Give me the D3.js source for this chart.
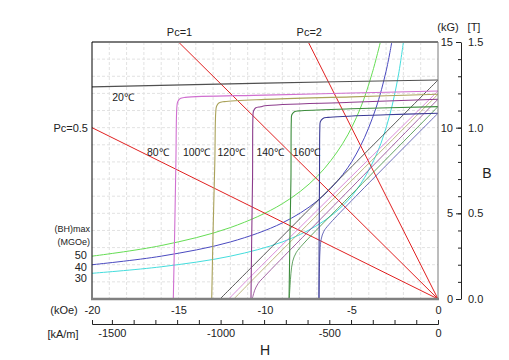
<!DOCTYPE html>
<html>
<head>
<meta charset="utf-8">
<script src="https://cdn.jsdelivr.net/npm/d3@7"></script>
<style>
  body { margin: 0; background: #fff; }
  svg text { font-family: "Liberation Sans", Arial, sans-serif; fill: #222; }
</style>
</head>
<body>
<div class="chart"></div>
<script>
// H in kOe, B / J in kG
var temps = ["20℃", "80℃", "100℃", "120℃", "140℃", "160℃"];

// intrinsic (J-H) curves, [H, J]
var intrinsic20 = [[-20, 12.38], [-10, 12.6], [0, 12.78]];
var intrinsic80 = [[0, 12.14], [-5, 12.02], [-10, 11.9], [-14.6, 11.77], [-14.9, 11.7], [-15.05, 11.5], [-15.1, 11.1], [-15.15, 8], [-15.22, 4], [-15.3, 0]];
var intrinsic100 = [[0, 11.95], [-5, 11.8], [-10, 11.65], [-12.35, 11.52], [-12.65, 11.45], [-12.8, 11.25], [-12.85, 10.85], [-12.9, 8], [-13.0, 4], [-13.08, 0]];
var intrinsic120 = [[0, 11.66], [-5, 11.48], [-10, 11.28], [-10.25, 11.22], [-10.55, 11.15], [-10.67, 10.95], [-10.7, 10.55], [-10.72, 7], [-10.77, 3.5], [-10.81, 0]];
var intrinsic140 = [[0, 11.23], [-5, 11.1], [-8.0, 10.98], [-8.3, 10.93], [-8.45, 10.75], [-8.48, 10.35], [-8.5, 7], [-8.56, 3.5], [-8.61, 0]];
var intrinsic160 = [[0, 10.84], [-3, 10.75], [-6.35, 10.6], [-6.65, 10.54], [-6.8, 10.35], [-6.83, 9.95], [-6.85, 7], [-6.87, 3.5], [-6.88, 0]];

// normal (B-H) curves, [H, B]
var normal20 = [[0, 12.78], [-6, 6.7], [-12.6, 0]];
var normal80 = [[0, 12.14], [-10, 2.15], [-12.1, 0]];
var normal100 = [[0, 11.95], [-10, 1.85], [-11.8, 0]];
var normal120 = [[0, 11.66], [-5, 6.5], [-10, 1.35], [-10.4, 0.9], [-10.6, 0.5], [-10.7, 0.15], [-10.75, 0]];
var normal140 = [[0, 11.23], [-5, 6.1], [-7.8, 3.2], [-8.2, 2.7], [-8.4, 2.2], [-8.5, 1.5], [-8.55, 0.8], [-8.6, 0]];
var normal160 = [[0, 10.84], [-6.3, 4.35], [-6.6, 3.95], [-6.75, 3.5], [-6.82, 2.8], [-6.86, 1.5], [-6.88, 0]];

// (BH)max energy curves, MGOe
var energyLabels = ["50", "40", "30"];
var energy50 = [[-20, 2.5], [-16, 3.12], [-12, 4.17], [-9, 5.56], [-7, 7.14], [-5.5, 9.09], [-4.5, 11.1], [-3.8, 13.2], [-3.33, 15]];
var energy40 = [[-20, 2], [-16, 2.5], [-12, 3.33], [-9, 4.44], [-7, 5.71], [-5.5, 7.27], [-4.5, 8.89], [-3.6, 11.1], [-3.0, 13.3], [-2.67, 15]];
var energy30 = [[-20, 1.5], [-16, 1.88], [-12, 2.5], [-9, 3.33], [-7, 4.29], [-5.5, 5.45], [-4.5, 6.67], [-3.5, 8.57], [-2.8, 10.7], [-2.3, 13.0], [-2, 15]];

// load lines (permeance coefficient), from origin to edge
var pcLabels = ["Pc=0.5", "Pc=1", "Pc=2"];
var pcEnds = [[-20, 10], [-15, 15], [-7.5, 15]];

// axis ticks
var hTicks = [-20, -15, -10, -5, 0];
var siTicks = [-1500, -1000, -500, 0];
var bTicks = [0, 5, 10, 15];
var tTicks = ["0.0", "0.5", "1.0", "1.5"];

function init() {
  var w = 509;
  var h = 360;
  var left = 92, right = 438, top = 42, bottom = 299;

  var intrinsic = [intrinsic20, intrinsic80, intrinsic100, intrinsic120, intrinsic140, intrinsic160];
  var normal = [normal20, normal80, normal100, normal120, normal140, normal160];
  var energy = [energy50, energy40, energy30];

  var tempColors = ["#505050", "#d070d0", "#aaa25a", "#8c3c8c", "#3c8c3c", "#3c3c96"];
  var normalColors = ["#303030", "#d070d0", "#aaa25a", "#8c3c8c", "#3c8c3c", "#4848a8"];
  var energyColors = ["#66dd55", "#4a4ac0", "#44dddd"];
  // label positions in data units
  var tempLabelPos = [[-18.2, 11.55], [-16.2, 8.35], [-13.95, 8.35], [-11.95, 8.35], [-9.7, 8.35], [-7.6, 8.35]];

  var x = d3.scaleLinear().domain([-20, 0]).range([left, right]);
  var y = d3.scaleLinear().domain([0, 15]).range([bottom, top]);
  var xSI = d3.scaleLinear().domain([-20 * 79.5775, 0]).range([left, right]);
  var yT = d3.scaleLinear().domain([0, 1.5]).range([bottom, top]);

  var svg = d3.select(".chart")
    .append("svg")
    .attr("width", w)
    .attr("height", h);

  svg.append("clipPath")
    .attr("id", "plot-clip")
    .append("rect")
    .attr("x", left)
    .attr("y", top)
    .attr("width", right - left)
    .attr("height", bottom - top);

  // dashed grid
  var grid = svg.append("g");
  grid.selectAll(".gx")
    .data(d3.range(-19, 0))
    .enter().append("line")
    .attr("x1", function(d) { return x(d); })
    .attr("x2", function(d) { return x(d); })
    .attr("y1", top)
    .attr("y2", bottom)
    .attr("stroke", "#e2e2e2")
    .attr("stroke-dasharray", "3,2");
  grid.selectAll(".gy")
    .data(d3.range(1, 15))
    .enter().append("line")
    .attr("x1", left)
    .attr("x2", right)
    .attr("y1", function(d) { return y(d); })
    .attr("y2", function(d) { return y(d); })
    .attr("stroke", "#e2e2e2")
    .attr("stroke-dasharray", "3,2");

  var line = d3.line()
    .x(function(d) { return x(d[0]); })
    .y(function(d) { return y(d[1]); })
    .curve(d3.curveCatmullRom.alpha(0.5));

  var plot = svg.append("g").attr("clip-path", "url(#plot-clip)");

  plot.selectAll(".energy")
    .data(energy)
    .enter().append("path")
    .attr("d", line)
    .attr("fill", "none")
    .attr("stroke", function(d, i) { return energyColors[i]; })
    .attr("stroke-width", 1);

  plot.selectAll(".pc")
    .data(pcEnds)
    .enter().append("line")
    .attr("x1", x(0))
    .attr("y1", y(0))
    .attr("x2", function(d) { return x(d[0]); })
    .attr("y2", function(d) { return y(d[1]); })
    .attr("stroke", "#e02020")
    .attr("stroke-width", 1);

  plot.selectAll(".normal")
    .data(normal)
    .enter().append("path")
    .attr("d", line)
    .attr("fill", "none")
    .attr("stroke", function(d, i) { return normalColors[i]; })
    .attr("stroke-width", 0.8);

  plot.selectAll(".intrinsic")
    .data(intrinsic)
    .enter().append("path")
    .attr("d", line)
    .attr("fill", "none")
    .attr("stroke", function(d, i) { return tempColors[i]; })
    .attr("stroke-width", 1.1);

  // frame
  svg.append("line").attr("x1", left).attr("x2", right).attr("y1", top).attr("y2", top)
    .attr("stroke", "#7a7a7a").attr("stroke-width", 2);
  svg.append("line").attr("x1", right).attr("x2", right).attr("y1", top).attr("y2", bottom)
    .attr("stroke", "#7a7a7a").attr("stroke-width", 1);
  svg.append("line").attr("x1", left).attr("x2", left).attr("y1", top).attr("y2", bottom)
    .attr("stroke", "#000").attr("stroke-width", 1);
  svg.append("line").attr("x1", left - 1).attr("x2", right + 1).attr("y1", bottom).attr("y2", bottom)
    .attr("stroke", "#808080").attr("stroke-width", 2.5);

  // temperature labels
  svg.selectAll(".tlabel")
    .data(temps)
    .enter().append("text")
    .attr("x", function(d, i) { return x(tempLabelPos[i][0]); })
    .attr("y", function(d, i) { return y(tempLabelPos[i][1]); })
    .attr("text-anchor", "middle")
    .attr("font-size", "10.5px")
    .text(function(d) { return d; });

  // load line labels
  svg.append("text")
    .attr("x", left - 4)
    .attr("y", y(pcEnds[0][1]) + 4)
    .attr("text-anchor", "end")
    .attr("font-size", "11px")
    .text(pcLabels[0]);
  svg.selectAll(".pclabel")
    .data(pcLabels.slice(1))
    .enter().append("text")
    .attr("x", function(d, i) { return x(pcEnds[i + 1][0]) + 1; })
    .attr("y", top - 6)
    .attr("text-anchor", "middle")
    .attr("font-size", "11px")
    .text(function(d) { return d; });

  // (BH)max labels
  svg.append("text").attr("x", 90).attr("y", 232).attr("text-anchor", "end")
    .attr("font-size", "9px").text("(BH)max");
  svg.append("text").attr("x", 90).attr("y", 245).attr("text-anchor", "end")
    .attr("font-size", "9px").text("(MGOe)");
  svg.selectAll(".elabel")
    .data(energyLabels)
    .enter().append("text")
    .attr("x", 87)
    .attr("y", function(d, i) { return 259 + i * 11.5; })
    .attr("text-anchor", "end")
    .attr("font-size", "11px")
    .text(function(d) { return d; });

  // bottom axis, kOe
  var hAxis = svg.append("g")
    .attr("transform", "translate(0," + bottom + ")")
    .call(d3.axisBottom(x).tickValues(hTicks).tickSize(0).tickPadding(7)
      .tickFormat(function(d) { return String(d); }));
  hAxis.select(".domain").remove();
  hAxis.selectAll("text").attr("font-size", "11px").attr("fill", "#222");

  // bottom axis, kA/m
  var siAxis = svg.append("g")
    .attr("transform", "translate(0,324)")
    .call(d3.axisBottom(xSI)
      .tickValues(d3.range(-1500, 1, 100))
      .tickSizeInner(-4)
      .tickSizeOuter(-4)
      .tickPadding(5)
      .tickFormat(function(d) { return siTicks.indexOf(d) >= 0 ? String(d) : ""; }));
  siAxis.selectAll("text").attr("font-size", "11px").attr("fill", "#222");
  siAxis.selectAll("line, path").attr("stroke", "#222");

  // right axis, kG
  var kgMinor = svg.append("g")
    .attr("transform", "translate(461,0)")
    .call(d3.axisLeft(y).tickValues(d3.range(0, 16)).tickSize(3).tickSizeOuter(0).tickFormat(""));
  kgMinor.selectAll("line, path").attr("stroke", "#222");
  var kgAxis = svg.append("g")
    .attr("transform", "translate(461,0)")
    .call(d3.axisLeft(y).tickValues(bTicks).tickSize(5).tickPadding(3));
  kgAxis.select(".domain").remove();
  kgAxis.selectAll("line").attr("stroke", "#222");
  kgAxis.selectAll("text").attr("font-size", "11px").attr("fill", "#222");

  // right axis, T
  var tAxis = svg.append("g")
    .attr("transform", "translate(461,0)")
    .call(d3.axisRight(yT).tickValues(tTicks.map(Number)).tickSize(0).tickPadding(7)
      .tickFormat(function(d, i) { return tTicks[i]; }));
  tAxis.select(".domain").remove();
  tAxis.selectAll("text").attr("font-size", "11px").attr("fill", "#222");

  // unit labels and axis titles
  svg.append("text").attr("x", 448).attr("y", 31).attr("text-anchor", "middle")
    .attr("font-size", "11px").text("(kG)");
  svg.append("text").attr("x", 474).attr("y", 31).attr("text-anchor", "middle")
    .attr("font-size", "11px").text("[T]");
  svg.append("text").attr("x", 64).attr("y", 314).attr("text-anchor", "middle")
    .attr("font-size", "11px").text("(kOe)");
  svg.append("text").attr("x", 63).attr("y", 338).attr("text-anchor", "middle")
    .attr("font-size", "11px").text("[kA/m]");
  svg.append("text").attr("x", 487).attr("y", 178).attr("text-anchor", "middle")
    .attr("font-size", "14px").text("B");
  svg.append("text").attr("x", 265).attr("y", 355).attr("text-anchor", "middle")
    .attr("font-size", "14px").text("H");
}

window.onload = init;
</script>
</body>
</html>
